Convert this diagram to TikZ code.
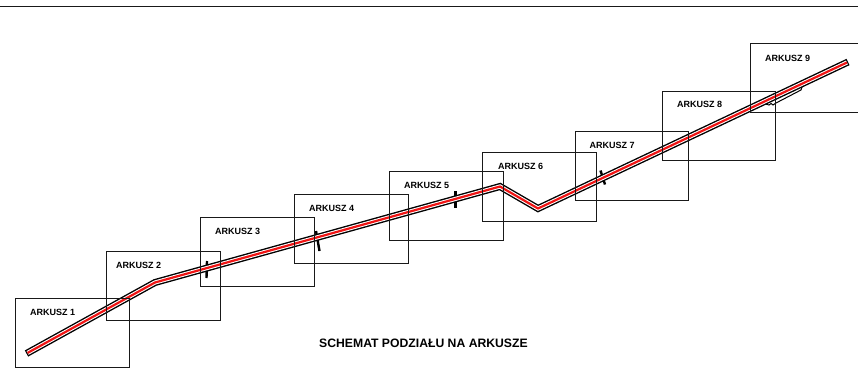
\documentclass[tikz,border=0pt]{standalone}
\usepackage{fontspec}
\setmainfont{Liberation Sans}
\definecolor{routered}{RGB}{240,20,20}
\tikzset{
  sheet/.style={draw=black!90,line width=1.2pt,fill=none,inner sep=0pt,minimum width=113.5pt,minimum height=69pt,anchor=north west},
  sheetlabel/.style={font=\fontsize{9}{10}\selectfont\bfseries,inner sep=0pt,anchor=west},
  routeblack/.style={draw=black,line width=7pt,line join=miter},
  routewhite/.style={draw=white,line width=4.2pt,line join=miter,shorten <=1.2pt,shorten >=1.2pt},
  routeline/.style={draw=routered,line width=2.2pt,line join=miter,shorten <=1.2pt,shorten >=1.2pt},
  tickmark/.style={draw=black,line width=2.4pt},
  jag/.style={draw=black,line width=1pt}
}
\begin{document}
\begin{tikzpicture}[x=1pt,y=-1pt]
\useasboundingbox (0,0) rectangle (858,372);
\coordinate (ruleL) at (0,6.5);
\coordinate (ruleR) at (858,6.5);
\draw[black!90,line width=1.2pt] (ruleL) -- (ruleR);
\coordinate (r0) at (26.5,353.5);
\coordinate (r1) at (155,282.5);
\coordinate (r2) at (500,186.5);
\coordinate (r3) at (538,208.5);
\coordinate (r4) at (848,62);
\draw[tickmark] (207,261) -- (206.5,278);
\draw[tickmark] (316,231) -- (319.5,251);
\draw[tickmark] (455.5,191) -- (455.5,208);
\draw[tickmark] (600.5,170.5) -- (605,184.5);
\draw[jag] (764,103.5) -- (769,105) -- (771,103.5) -- (773,105) -- (776,103) -- (801,90) -- (802,87);
\draw[routeblack] (r0) -- (r1) -- (r2) -- (r3) -- (r4);
\draw[routewhite] (r0) -- (r1) -- (r2) -- (r3) -- (r4);
\draw[routeline] (r0) -- (r1) -- (r2) -- (r3) -- (r4);
\node[sheet] (s1) at (15,297.7) {};
\node[sheet] (s2) at (106,250.7) {};
\node[sheet] (s3) at (200,217) {};
\node[sheet] (s4) at (294,193.5) {};
\node[sheet] (s5) at (389,171) {};
\node[sheet] (s6) at (482,151.5) {};
\node[sheet] (s7) at (574.5,130.7) {};
\node[sheet] (s8) at (661.7,90.5) {};
\node[sheet] (s9) at (749.7,42.5) {};
\node[sheetlabel] (l1) at (30,312.5) {ARKUSZ 1};
\node[sheetlabel] (l2) at (116,265) {ARKUSZ 2};
\node[sheetlabel] (l3) at (215,231) {ARKUSZ 3};
\node[sheetlabel] (l4) at (309,208) {ARKUSZ 4};
\node[sheetlabel] (l5) at (404,185) {ARKUSZ 5};
\node[sheetlabel] (l6) at (498,166) {ARKUSZ 6};
\node[sheetlabel] (l7) at (589.5,145.5) {ARKUSZ 7};
\node[sheetlabel] (l8) at (677,104) {ARKUSZ 8};
\node[sheetlabel] (l9) at (765,58) {ARKUSZ 9};
\node[font=\fontsize{12.2}{13}\selectfont\bfseries,inner sep=0pt,anchor=west] (title) at (319,343) {SCHEMAT PODZIAŁU NA ARKUSZE};
\end{tikzpicture}
\end{document}
